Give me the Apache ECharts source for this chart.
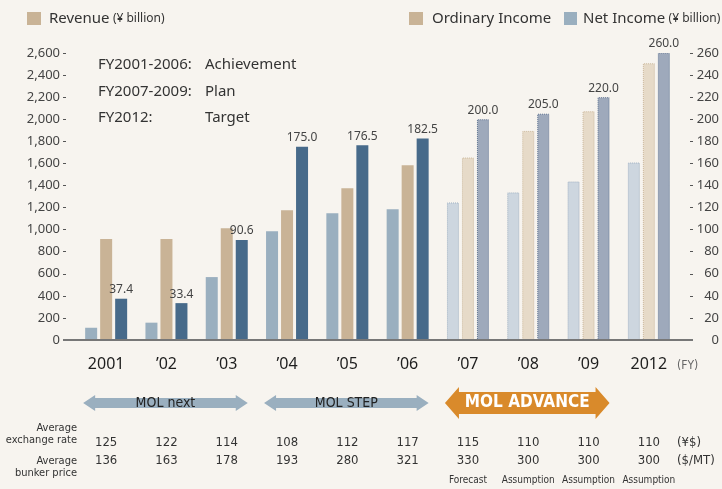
<!DOCTYPE html>
<html lang="en">
<head>
<meta charset="UTF-8">
<title>MOL Revenue / Income</title>
<script src="https://cdn.jsdelivr.net/npm/echarts@6/dist/echarts.min.js"></script>
<style>
  html, body { margin: 0; padding: 0; background: #f7f4ef; }
  #main { width: 722px; height: 489px; }
</style>
</head>
<body>
<div id="main"></div>
<script>
// data
var years = ['2001', '\u201902', '\u201903', '\u201904', '\u201905', '\u201906', '\u201907', '\u201908', '\u201909', '2012'];
var revenue = [914, 914, 1013, 1176, 1375, 1584, 1653, 1894, 2072, 2507];      // left axis
var netIncome = [11.1, 15.7, 57.0, 98.6, 114.9, 118.5, 124.6, 133.7, 143.6, 160.8]; // right axis
var ordinaryIncome = [37.4, 33.4, 90.6, 175.0, 176.5, 182.5, 200.0, 205.0, 220.0, 260.0];
var exchangeRate = ['125', '122', '114', '108', '112', '117', '115', '110', '110', '110'];
var bunkerPrice = ['136', '163', '178', '193', '280', '321', '330', '300', '300', '300'];
var notes = ['', '', '', '', '', '', 'Forecast', 'Assumption', 'Assumption', 'Assumption'];
var planFrom = 6; // FY2007 onwards = plan / target (faded bars)

var sans = '"Noto Sans", "Open Sans", sans-serif';
var narrow = '"Liberation Sans Narrow", "DejaVu Sans Condensed", "Noto Sans", sans-serif';

function items(values, solid, faded, border) {
    return values.map(function (v, i) {
        if (i < planFrom) return { value: v, itemStyle: { color: solid } };
        return { value: v, itemStyle: { color: faded, borderColor: border, borderWidth: 1, borderType: 'dotted' } };
    });
}

function hiddenX(data, margin, size, font) {
    return {
        type: 'category', data: data, position: 'bottom',
        axisLine: { show: false }, axisTick: { show: false },
        axisLabel: { interval: 0, margin: margin, fontSize: size, fontFamily: font, color: '#333' }
    };
}

var myChart = echarts.init(document.getElementById('main'));

var option = {
    backgroundColor: '#f7f4ef',
    animation: false,
    grid: { left: 76, right: 41, top: 53, bottom: 149 },
    xAxis: [
        {
            type: 'category', data: years,
            axisLine: { show: false }, axisTick: { show: false },
            axisLabel: { interval: 0, margin: 16, fontSize: 16, fontFamily: sans, color: '#1e1e1e' }
        },
        hiddenX(exchangeRate, 96, 13, narrow),
        hiddenX(bunkerPrice, 114, 13, narrow),
        hiddenX(notes, 135, 10, narrow)
    ],
    yAxis: [
        {
            type: 'value', min: 0, max: 2600, interval: 200, offset: 10,
            axisLine: { show: false },
            axisTick: { show: true, length: 3, lineStyle: { color: '#555' } },
            splitLine: { show: false },
            axisLabel: {
                margin: 6, fontSize: 13, fontFamily: sans, color: '#444',
                formatter: function (v) { return v.toLocaleString('en-US'); }
            }
        },
        {
            type: 'value', min: 0, max: 260, interval: 20, offset: 11, position: 'right',
            axisLine: { show: false },
            axisTick: { show: true, length: 3, lineStyle: { color: '#555' } },
            splitLine: { show: false },
            axisLabel: { margin: 29, align: 'right', fontSize: 13, fontFamily: sans, color: '#444' }
        }
    ],
    series: [
        {
            name: 'Net Income', type: 'bar', yAxisIndex: 1, barWidth: 12, barGap: '25%',
            data: items(netIncome, '#9aafbf', '#cdd6df', '#9fb0c2')
        },
        {
            name: 'Revenue', type: 'bar', yAxisIndex: 0, barWidth: 12, barGap: '25%',
            data: items(revenue, '#c9b396', '#e6dac8', '#cbb89c')
        },
        {
            name: 'Ordinary Income', type: 'bar', yAxisIndex: 1, barWidth: 12, barGap: '25%',
            data: items(ordinaryIncome, '#476a8a', '#9ea9bb', '#607492'),
            label: {
                show: true, position: 'top', distance: 3, fontSize: 12, fontFamily: sans, color: '#444',
                formatter: function (p) { return p.value.toFixed(1); }
            }
        }
    ]
};
myChart.setOption(option);

// decorations: legend, notes, programme arrows, table captions
function px(i) { return myChart.convertToPixel({ xAxisIndex: 0 }, years[i]); }
var y0 = myChart.convertToPixel({ yAxisIndex: 0 }, 0);

function arrow(x1, x2, y, shaft, head, headLen, color, label, txtColor, bold, size) {
    var pts = [
        [x1, y], [x1 + headLen, y - head], [x1 + headLen, y - shaft],
        [x2 - headLen, y - shaft], [x2 - headLen, y - head], [x2, y],
        [x2 - headLen, y + head], [x2 - headLen, y + shaft], [x1 + headLen, y + shaft],
        [x1 + headLen, y + head]
    ];
    return [
        { type: 'polygon', shape: { points: pts }, style: { fill: color } },
        {
            type: 'text', x: (x1 + x2) / 2, y: y,
            style: {
                text: label, fill: txtColor, font: (bold ? 'bold ' : '') + size + 'px ' + narrow,
                textAlign: 'center', textVerticalAlign: 'middle'
            }
        }
    ];
}

function txt(x, y, s, size, color, align, font) {
    return {
        type: 'text', x: x, y: y,
        style: { text: s, fill: color, font: size + 'px ' + (font || sans), textAlign: align || 'left', textVerticalAlign: 'middle' }
    };
}

var g = [];
// axis base line
g.push({ type: 'line', shape: { x1: 63, y1: y0, x2: 693, y2: y0 }, style: { stroke: '#777', lineWidth: 2 }, z: 10 });
// legend
g.push({ type: 'rect', shape: { x: 27, y: 12, width: 14, height: 13 }, style: { fill: '#c9b396' } });
g.push({
    type: 'text', x: 49, y: 19,
    style: {
        text: '{a|Revenue} {b|(\u00a5 billion)}', textVerticalAlign: 'middle',
        rich: { a: { fontSize: 15, fontFamily: sans, fill: '#333' }, b: { fontSize: 12, fontFamily: sans, fill: '#333' } }
    }
});
g.push({ type: 'rect', shape: { x: 409, y: 12, width: 14, height: 13 }, style: { fill: '#c9b396' } });
g.push(txt(432, 19, 'Ordinary Income', 15, '#333'));
g.push({ type: 'rect', shape: { x: 564, y: 12, width: 13, height: 13 }, style: { fill: '#9aafbf' } });
g.push({
    type: 'text', x: 583, y: 19,
    style: {
        text: '{a|Net Income} {b|(\u00a5 billion)}', textVerticalAlign: 'middle',
        rich: { a: { fontSize: 15, fontFamily: sans, fill: '#333' }, b: { fontSize: 12, fontFamily: sans, fill: '#333' } }
    }
});
// period notes
g.push(txt(98, 65, 'FY2001-2006:', 15, '#333'));
g.push(txt(205, 65, 'Achievement', 15, '#333'));
g.push(txt(98, 92, 'FY2007-2009:', 15, '#333'));
g.push(txt(205, 92, 'Plan', 15, '#333'));
g.push(txt(98, 118, 'FY2012:', 15, '#333'));
g.push(txt(205, 118, 'Target', 15, '#333'));
// (FY)
g.push(txt(677, 366, '(FY)', 12, '#666', 'left', narrow));
// programme arrows
g = g.concat(arrow(px(0) - 23, px(2) + 21, 403, 5, 8, 12, '#9aafbf', 'MOL next', '#222', false, 14));
g = g.concat(arrow(px(3) - 23, px(5) + 21, 403, 5, 8, 12, '#9aafbf', 'MOL STEP', '#222', false, 14));
g = g.concat(arrow(px(6) - 23, px(8) + 21, 403, 11, 16, 14, '#d98a2b', 'MOL ADVANCE', '#fff', true, 17));
// table captions
g.push({ type: 'text', x: 77, y: 434, style: { text: 'Average\nexchange rate', fill: '#333', font: '11px ' + narrow, textAlign: 'right', textVerticalAlign: 'middle', lineHeight: 12 } });
g.push({ type: 'text', x: 77, y: 467, style: { text: 'Average\nbunker price', fill: '#333', font: '11px ' + narrow, textAlign: 'right', textVerticalAlign: 'middle', lineHeight: 12 } });
g.push(txt(677, 443, '(\u00a5$)', 13, '#333', 'left', narrow));
g.push(txt(677, 461, '($/MT)', 13, '#333', 'left', narrow));

myChart.setOption({ graphic: g });
</script>
</body>
</html>
